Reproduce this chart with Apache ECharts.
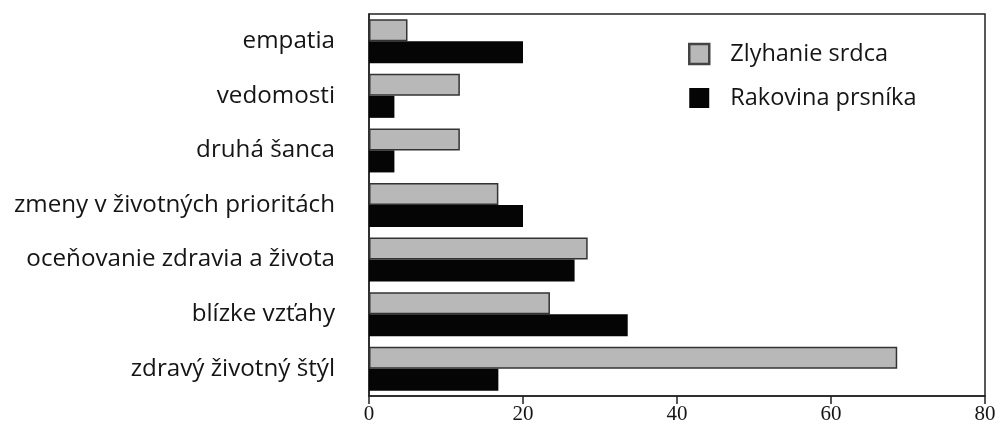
<!DOCTYPE html>
<html>
<head>
<meta charset="utf-8">
<script src="https://cdn.jsdelivr.net/npm/echarts@6/dist/echarts.min.js"></script>
<style>
  html, body { margin: 0; padding: 0; background: #fff; }
  #chart { width: 1000px; height: 426px; }
</style>
</head>
<body>
<div id="chart"></div>
<script>
// Categories (top to bottom) and values per group
const categories = [
  'empatia',
  'vedomosti',
  'druhá šanca',
  'zmeny v životných prioritách',
  'oceňovanie zdravia a života',
  'blízke vzťahy',
  'zdravý životný štýl'
];
const heartFailure = [5, 11.8, 11.8, 16.8, 28.4, 23.5, 68.6];
const breastCancer = [20, 3.3, 3.3, 20, 26.7, 33.6, 16.8];
const seriesNames = ['Zlyhanie srdca', 'Rakovina prsníka'];
const xTicks = [0, 20, 40, 60, 80];

const chart = echarts.init(document.getElementById('chart'), null, { renderer: 'canvas' });

const sansFont = '"Open Sans", "Noto Sans", sans-serif';

chart.setOption({
  animation: false,
  backgroundColor: '#ffffff',
  grid: {
    left: 369, right: 15, top: 14, bottom: 30,
    show: true, borderColor: '#222', borderWidth: 1.5
  },
  legend: {
    orient: 'vertical',
    left: 683, top: 37,
    itemWidth: 20, itemHeight: 20, itemGap: 20,
    textStyle: { fontFamily: sansFont, fontSize: 23.5, color: '#151515', padding: [0, 0, 0, 16] },
    data: [
      { name: seriesNames[0], icon: 'rect', itemStyle: { color: '#b8b8b8', borderColor: '#444', borderWidth: 2.5 } },
      { name: seriesNames[1], icon: 'rect', itemStyle: { color: '#050505' } }
    ]
  },
  xAxis: {
    type: 'value',
    min: xTicks[0], max: xTicks[xTicks.length - 1], interval: 20,
    axisLine: { show: true, lineStyle: { color: '#222', width: 1.5 } },
    axisTick: { show: true, length: 8, inside: false, lineStyle: { color: '#222', width: 1.5 } },
    splitLine: { show: false },
    axisLabel: { fontFamily: '"Liberation Serif", serif', fontSize: 21, color: '#151515', margin: 8 }
  },
  yAxis: {
    type: 'category',
    inverse: true,
    data: categories,
    axisLine: { show: true, lineStyle: { color: '#222', width: 1.5 } },
    axisTick: { show: false },
    axisLabel: { fontFamily: sansFont, fontSize: 24.2, color: '#151515', margin: 34, verticalAlign: 'middle' }
  },
  series: [
    {
      name: seriesNames[0], type: 'bar', data: heartFailure,
      barWidth: 22, barGap: '0%',
      itemStyle: { color: '#b8b8b8', borderColor: '#333', borderWidth: 1.5 }
    },
    {
      name: seriesNames[1], type: 'bar', data: breastCancer,
      barWidth: 22, barGap: '0%',
      itemStyle: { color: '#050505' }
    }
  ]
});
</script>
</body>
</html>
